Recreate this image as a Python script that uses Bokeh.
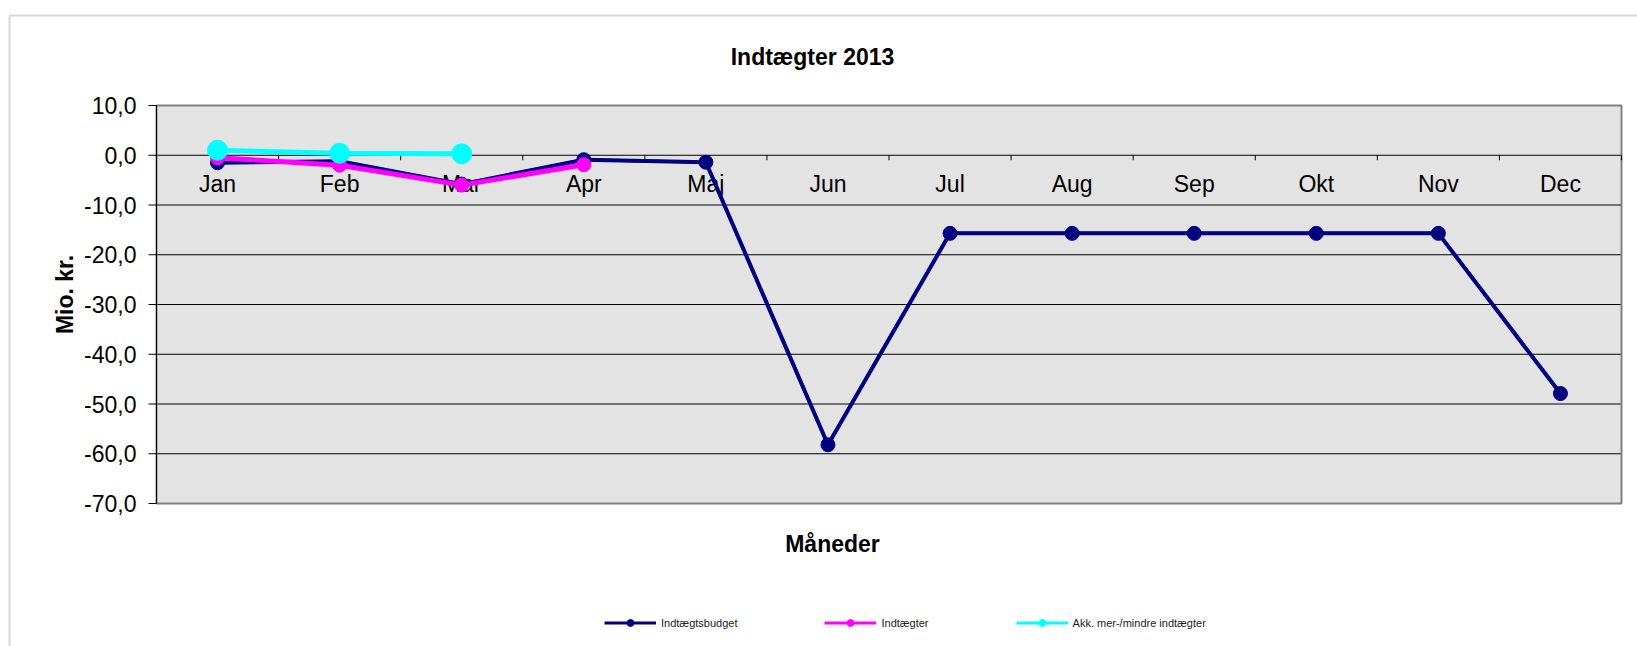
import math

from bokeh.plotting import figure
from bokeh.models import Range1d, Legend, LegendItem, BoxAnnotation
from bokeh.core.properties import value
from bokeh.embed import file_html
from bokeh.resources import INLINE

# ---- data -----------------------------------------------------------------
months = ["Jan", "Feb", "Mar", "Apr", "Maj", "Jun",
          "Jul", "Aug", "Sep", "Okt", "Nov", "Dec"]
budget = [-1.5, -1.2, -5.8, -0.9, -1.4, -58.2,
          -15.7, -15.7, -15.7, -15.7, -15.7, -47.9]   # Indtægtsbudget
income = [-0.5, -2.0, -6.0, -1.9]                      # Indtægter
akk = [1.0, 0.4, 0.3]                                  # Akk. mer-/mindre indtægter
y_ticks = [-70, -60, -50, -40, -30, -20, -10, 0, 10]
y_tick_labels = ["-70,0", "-60,0", "-50,0", "-40,0", "-30,0",
                 "-20,0", "-10,0", "0,0", "10,0"]

series_names = ["Indtægtsbudget", "Indtægter", "Akk. mer-/mindre indtægter"]
series_colors = ["#000080", "#FF00FF", "#00FFFF"]
series_values = [budget, income, akk]
series_widths = [4, 5, 5]
series_sizes = [14, 14, 20]

# ---- page geometry (pixels) ----------------------------------------------
W, H = 1637, 646
PA_L, PA_R, PA_T, PA_B = 156, 1621, 105, 503     # plot area
Y_MIN, Y_MAX = y_ticks[0], y_ticks[-1]
X_MIN, X_MAX = 0.5, len(months) + 0.5
FONT = "Liberation Sans"

x_per_px = (X_MAX - X_MIN) / (PA_R - PA_L)
y_per_px = (Y_MAX - Y_MIN) / (PA_B - PA_T)


def X(px):
    return X_MIN + (px - PA_L) * x_per_px


def Y(py):
    return Y_MAX - (py - PA_T) * y_per_px


# the frame covers the whole page; the plot area is drawn inside it
p = figure(width=W, height=H, output_backend="svg", toolbar_location=None,
           x_range=Range1d(X(0), X(W)), y_range=Range1d(Y(H), Y(0)),
           x_axis_location=None, y_axis_location=None,
           min_border=0, min_border_left=0, min_border_right=0,
           min_border_top=0, min_border_bottom=0)
p.title.text = ""
p.xgrid.visible = False
p.ygrid.visible = False
p.outline_line_color = None
p.background_fill_color = "white"
p.border_fill_color = "white"

# chart area edge
p.add_layout(BoxAnnotation(left=X(9), top=Y(15), right=X(W + 30),
                           bottom=Y(H + 30), fill_alpha=0,
                           line_color="#7a7a7a", line_width=2))

# plot area
p.quad(left=[X_MIN], right=[X_MAX], bottom=[Y_MIN], top=[Y_MAX],
       fill_color="#E3E3E3", line_color=None)
inner = y_ticks[1:-1]
p.segment(x0=[X_MIN] * len(inner), x1=[X_MAX] * len(inner), y0=inner, y1=inner,
          line_color="black", line_width=1)
p.quad(left=[X_MIN], right=[X_MAX], bottom=[Y_MIN], top=[Y_MAX],
       fill_color=None, line_color="#808080", line_width=2)

# value axis
p.segment(x0=[X_MIN], x1=[X_MIN], y0=[Y_MIN], y1=[Y_MAX],
          line_color="black", line_width=1)
p.segment(x0=[X_MIN] * len(y_ticks), x1=[X(PA_L - 8)] * len(y_ticks),
          y0=y_ticks, y1=y_ticks, line_color="black", line_width=1)
p.text(x=[X_MIN] * len(y_ticks), y=y_ticks, text=y_tick_labels,
       x_offset=-20, text_align="right", text_baseline="middle",
       text_font=value(FONT), text_font_size="23px", text_color="black")

# category axis along the zero line, ticks hanging 5 px below it
xs = list(range(1, len(months) + 1))
bounds = [i + 0.5 for i in range(1, len(months) + 1)]
tick_len = 5 * y_per_px
p.segment(x0=bounds, y0=[0] * len(bounds), x1=bounds,
          y1=[-tick_len] * len(bounds), line_color="black", line_width=1)
p.text(x=xs, y=[0] * len(xs), text=months, text_align="center",
       text_baseline="alphabetic", y_offset=29, text_font=value(FONT),
       text_font_size="23px", text_color="black")

# series; a thinner copy of each sits underneath and styles its legend entry
items = []
for name, col, vals, lw, sz in zip(series_names, series_colors, series_values,
                                   series_widths, series_sizes):
    sx = xs[:len(vals)]
    key_line = p.line(sx, vals, line_color=col, line_width=3)
    key_dot = p.scatter(sx, vals, size=7, fill_color=col, line_color=col)
    items.append(LegendItem(label=name, renderers=[key_line, key_dot]))
for col, vals, lw, sz in zip(series_colors, series_values, series_widths,
                             series_sizes):
    sx = xs[:len(vals)]
    p.line(sx, vals, line_color=col, line_width=lw)
    p.scatter(sx, vals, size=sz, fill_color=col, line_color=col)

# titles
p.text(x=[X(812)], y=[Y(56)], text=["Indtægter 2013"], text_align="center",
       text_baseline="middle", text_font=value(FONT), text_font_size="23px",
       text_font_style="bold", text_color="black")
p.text(x=[X(832)], y=[Y(543)], text=["Måneder"], text_align="center",
       text_baseline="middle", text_font=value(FONT), text_font_size="23px",
       text_font_style="bold", text_color="black")
p.text(x=[X(64)], y=[Y(294)], text=["Mio. kr."], angle=math.pi / 2,
       text_align="center", text_baseline="middle", text_font=value(FONT),
       text_font_size="23px", text_font_style="bold", text_color="black")

legend = Legend(items=items, orientation="horizontal", location=(604, 15),
                spacing=87, glyph_width=52, glyph_height=17, label_standoff=5,
                padding=0, margin=0, border_line_color=None,
                background_fill_alpha=0, label_text_font=FONT,
                label_text_font_size="11px", label_text_color="#222222",
                label_height=17)
p.add_layout(legend, "center")

open("out.html", "w").write(file_html(p, INLINE))
